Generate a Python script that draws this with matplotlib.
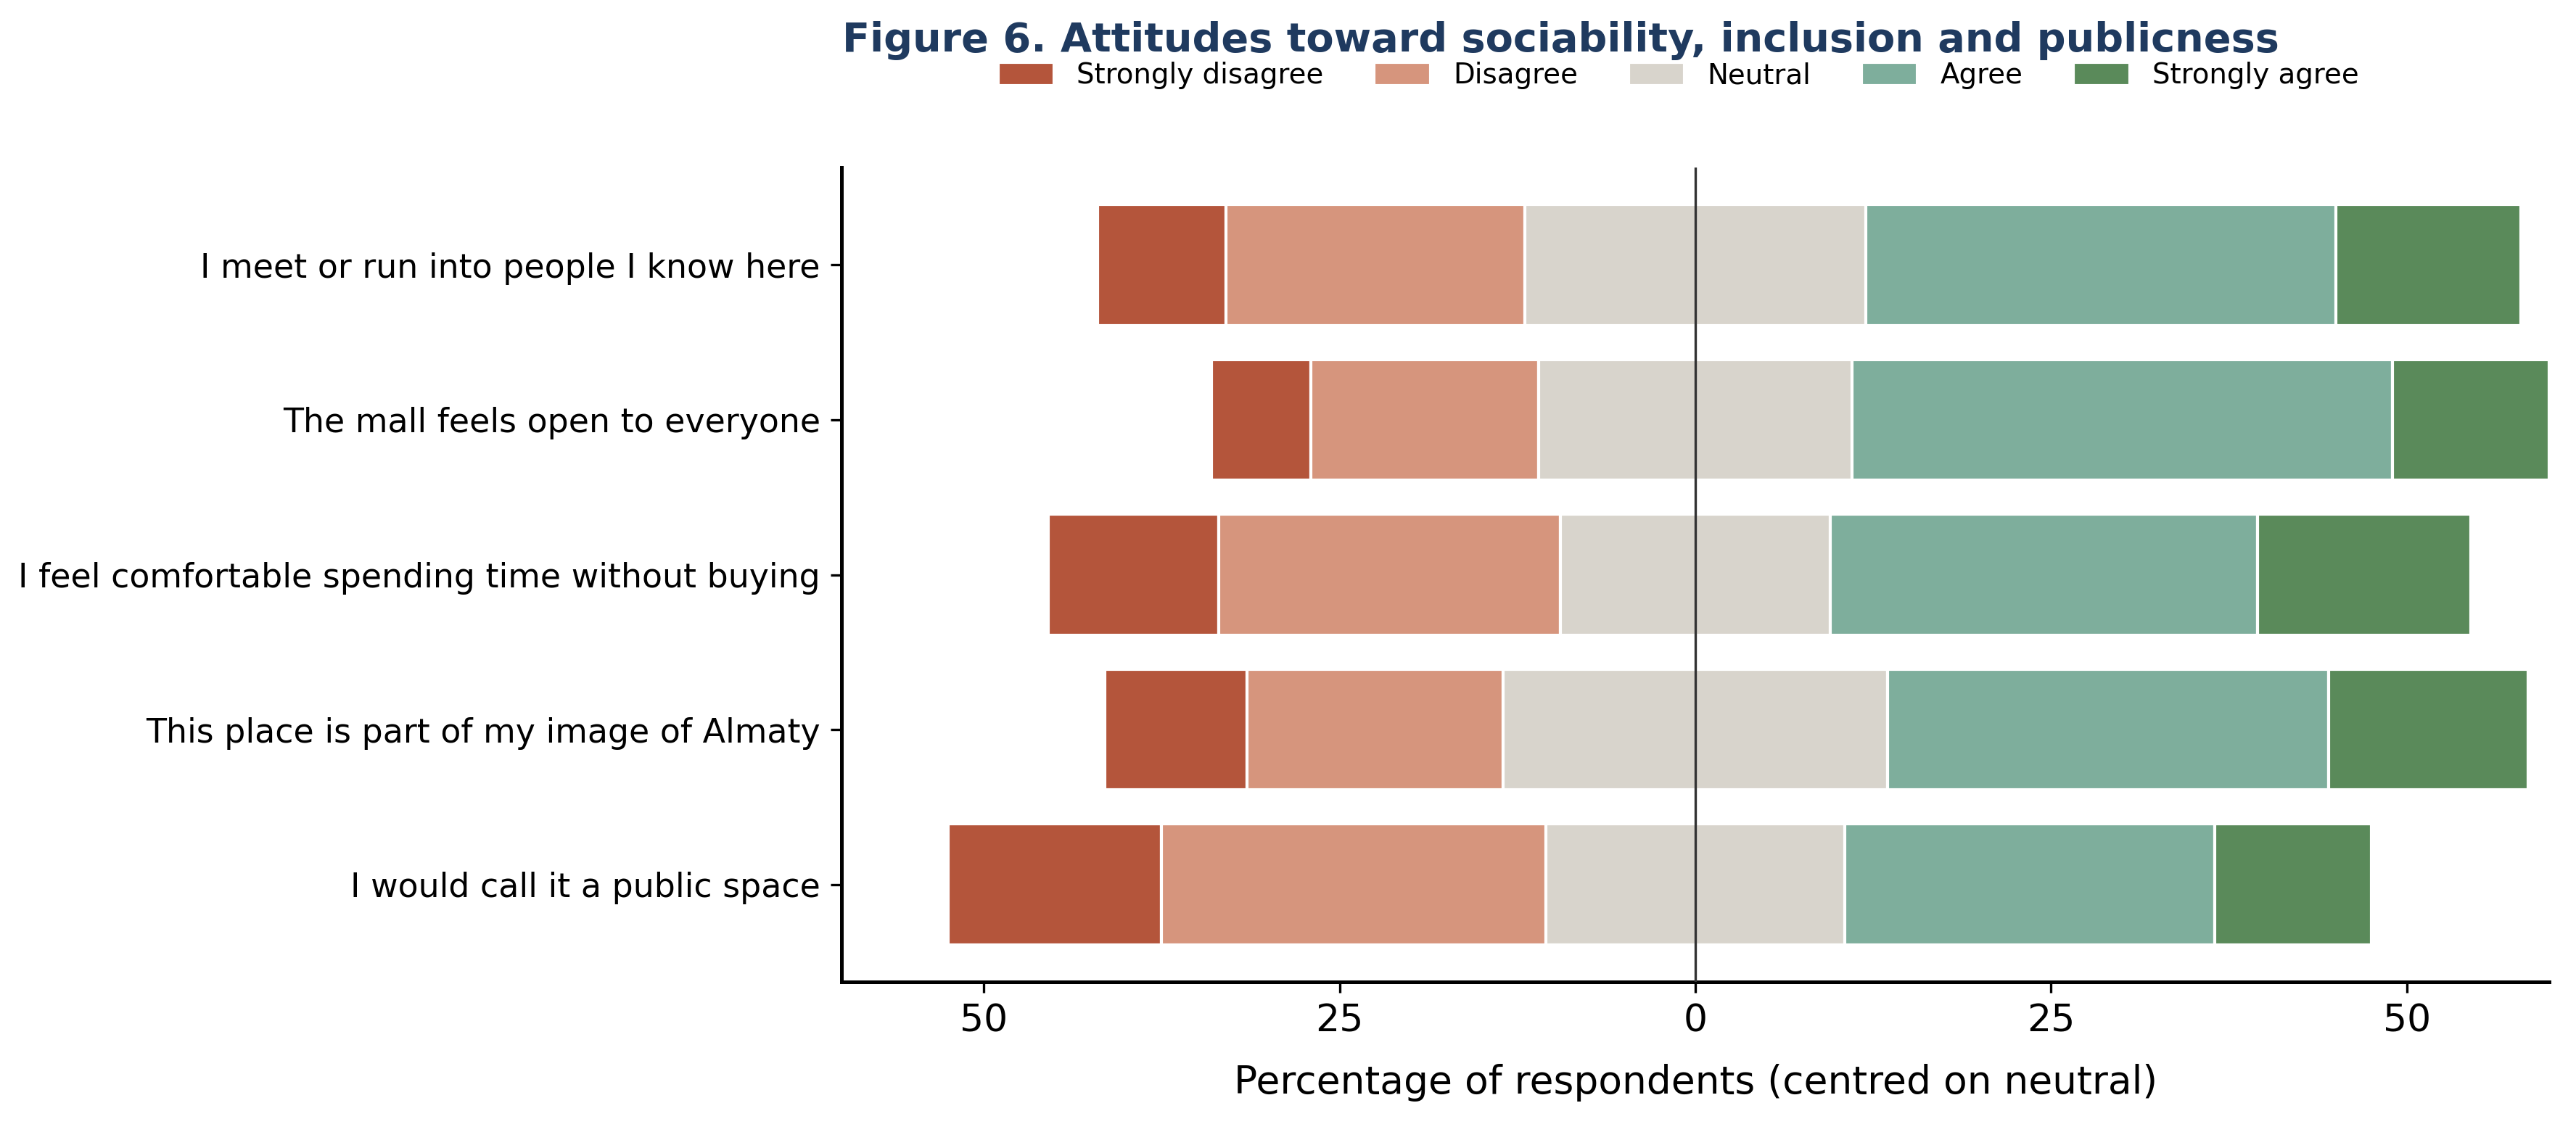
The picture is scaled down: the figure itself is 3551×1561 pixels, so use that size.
"""
diverging likert bars, figure 6
"""
import numpy as np
import matplotlib
matplotlib.use("Agg")
import matplotlib.pyplot as plt

statements = [
    "I meet or run into people I know here",
    "The mall feels open to everyone",
    "I feel comfortable spending time without buying",
    "This place is part of my image of Almaty",
    "I would call it a public space",
]
levels = ["Strongly disagree", "Disagree", "Neutral", "Agree", "Strongly agree"]

# percent of respondents per answer
strongly_disagree = [9, 7, 12, 10, 15]
disagree = [21, 16, 24, 18, 27]
neutral = [24, 22, 19, 27, 21]
agree = [33, 38, 30, 31, 26]
strongly_agree = [13, 11, 15, 14, 11]

colours = ["#b4553b", "#d6957d", "#d8d4cc", "#7eae9c", "#5a8a5a"]

sd = np.array(strongly_disagree, dtype=float)
d = np.array(disagree, dtype=float)
n = np.array(neutral, dtype=float)
a = np.array(agree, dtype=float)
sa = np.array(strongly_agree, dtype=float)

y = np.arange(len(statements))

fig = plt.figure(figsize=(3551 / 300, 1561 / 300), dpi=300)
ax = fig.add_axes([0.3267, 0.1326, 0.6629, 0.7194])

# left side goes from -neutral/2 outwards, right side from +neutral/2
starts = [-n / 2 - d - sd, -n / 2 - d, -n / 2, n / 2, n / 2 + a]
widths = [sd, d, n, a, sa]
for i in range(5):
    ax.barh(y, widths[i], left=starts[i], height=0.78, color=colours[i],
            edgecolor="white", linewidth=1.0, label=levels[i], zorder=2)

ax.axvline(0, color="#333333", linewidth=0.8, zorder=3)

lim = max((n / 2 + d + sd).max(), (n / 2 + a + sa).max())
ax.set_xlim(-lim, lim)
ax.invert_yaxis()

ax.set_yticks(y)
ax.set_yticklabels(statements, fontsize=11)
ticks = [-50, -25, 0, 25, 50]
ax.set_xticks(ticks)
ax.set_xticklabels([str(abs(t)) for t in ticks], fontsize=12.5)
ax.set_xlabel("Percentage of respondents (centred on neutral)", fontsize=12.8,
              labelpad=8)

ax.spines["top"].set_visible(False)
ax.spines["right"].set_visible(False)
ax.spines["left"].set_linewidth(1.2)
ax.spines["bottom"].set_linewidth(1.2)

fig.text(0.606, 0.964, "Figure 6. Attitudes toward sociability, inclusion and publicness",
         ha="center", va="center", fontsize=13.4, fontweight="bold", color="#1f3a5f")

ax.legend(loc="center", bbox_to_anchor=(0.49, 1.113), ncol=5, frameon=False,
          fontsize=9.3, handlelength=2.0, handleheight=0.9, columnspacing=1.8)

fig.savefig("out.png", dpi=300)
